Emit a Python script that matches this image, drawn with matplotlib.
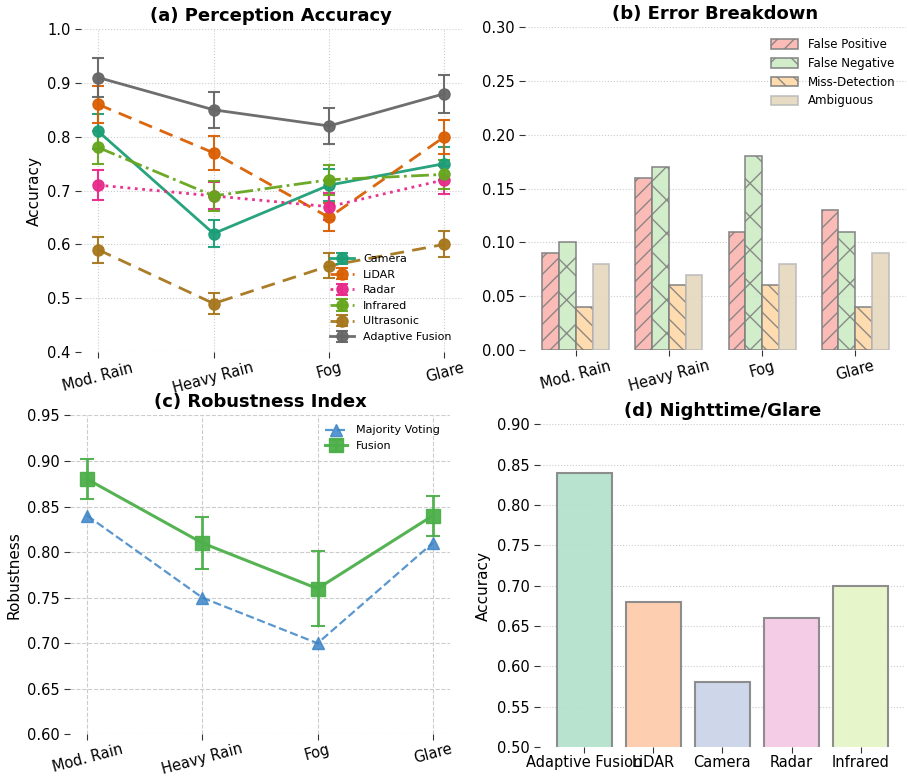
import matplotlib
matplotlib.use("Agg")
import matplotlib.pyplot as plt
import numpy as np

plt.rcParams['font.family'] = ['DejaVu Sans']

conditions = ["Mod. Rain", "Heavy Rain", "Fog", "Glare"]

# Panel (a)
sensors = ["Camera", "LiDAR", "Radar", "Infrared", "Ultrasonic", "Adaptive Fusion"]
acc_camera = [0.81, 0.62, 0.71, 0.75]
acc_lidar = [0.86, 0.77, 0.65, 0.80]
acc_radar = [0.71, 0.69, 0.67, 0.72]
acc_infrared = [0.78, 0.69, 0.72, 0.73]
acc_ultrasonic = [0.59, 0.49, 0.56, 0.60]
acc_fusion = [0.91, 0.85, 0.82, 0.88]
err_camera = [0.032, 0.025, 0.03, 0.03]
err_lidar = [0.035, 0.031, 0.026, 0.032]
err_radar = [0.028, 0.025, 0.025, 0.026]
err_infrared = [0.031, 0.028, 0.028, 0.027]
err_ultrasonic = [0.024, 0.02, 0.023, 0.024]
err_fusion = [0.036, 0.034, 0.033, 0.035]

# Panel (b)
error_types = ["False Positive", "False Negative", "Miss-Detection", "Ambiguous"]
fp = [0.09, 0.16, 0.11, 0.13]
fn = [0.10, 0.17, 0.18, 0.11]
md = [0.04, 0.06, 0.06, 0.04]
amb = [0.08, 0.07, 0.08, 0.09]

# Panel (c)
rob_majority = [0.84, 0.75, 0.70, 0.81]
rob_fusion = [0.88, 0.81, 0.76, 0.84]
rob_fusion_err = [0.022, 0.029, 0.041, 0.022]

# Panel (d)
night_methods = ["Adaptive Fusion", "LiDAR", "Camera", "Radar", "Infrared"]
night_acc = [0.84, 0.68, 0.58, 0.66, 0.70]

plt.rcParams['hatch.color'] = '#808080'
fig = plt.figure(figsize=(9.09, 7.78), dpi=100)

def style(ax, grid_axis='both', ls=':'):
    for s in ax.spines.values():
        s.set_visible(False)
    ax.tick_params(axis='both', length=4, color='#333333', labelsize=10.5)
    ax.tick_params(axis='x', pad=2)
    ax.grid(True, axis=grid_axis, linestyle=ls, color='#cccccc', linewidth=0.8)
    ax.set_axisbelow(True)

# (a)
axa = fig.add_axes([0.089, 0.5476, 0.419, 0.415])
x = np.arange(len(conditions))
a_data = [acc_camera, acc_lidar, acc_radar, acc_infrared, acc_ultrasonic, acc_fusion]
a_err = [err_camera, err_lidar, err_radar, err_infrared, err_ultrasonic, err_fusion]
a_colors = ['#1b9e77', '#d95f02', '#e7298a', '#66a61e', '#a6761d', '#666666']
a_ls = ['-', (0, (5, 3)), ':', '-.', (0, (5, 3)), '-']
for name, d, e, c, ls in zip(sensors, a_data, a_err, a_colors, a_ls):
    axa.errorbar(x, d, yerr=e, color=c, linestyle=ls, linewidth=2, marker='o',
                 markersize=8, capsize=4, elinewidth=1.5, capthick=1.5, label=name, alpha=0.95)
axa.set_xticks(x)
axa.set_xticklabels(conditions, rotation=15)
axa.set_ylim(0.4, 1.0)
axa.set_ylabel("Accuracy", fontsize=11)
axa.set_title("(a) Perception Accuracy", fontsize=13, fontweight='bold')
style(axa)
axa.legend(loc='lower right', fontsize=8, frameon=False, handlelength=2.2, labelspacing=0.5)

# (b)
axb = fig.add_axes([0.5776, 0.5501, 0.419, 0.415])
b_data = [fp, fn, md, amb]
b_colors = ['#fbb4ae', '#ccebc5', '#fed9a6', '#e5d8bd']
b_hatch = ['//', 'x', '\\\\', '']
w = 0.18
for i, (name, d, c, h) in enumerate(zip(error_types, b_data, b_colors, b_hatch)):
    ec = '#808080' if h else '#bbbbbb'
    axb.bar(x + (i - 1.5) * w, d, width=w, color=c, hatch=h, edgecolor=ec,
            linewidth=1.2, label=name, alpha=0.9)
axb.set_xticks(x)
axb.set_xticklabels(conditions, rotation=15)
axb.set_ylim(0, 0.30)
axb.set_yticks([0, 0.05, 0.10, 0.15, 0.20, 0.25, 0.30])
axb.set_yticklabels(["0.00", "0.05", "0.10", "0.15", "0.20", "0.25", "0.30"])
axb.set_title("(b) Error Breakdown", fontsize=13, fontweight='bold')
style(axb, grid_axis='y')
axb.legend(loc='upper right', fontsize=8.5, frameon=False, handlelength=2.3, handleheight=0.9)

# (c)
axc = fig.add_axes([0.077, 0.056, 0.418, 0.41])
axc.plot(x, rob_majority, color='#3d85c6', linestyle='--', marker='^', markersize=8,
         linewidth=1.6, label='Majority Voting', alpha=0.85)
axc.errorbar(x, rob_fusion, yerr=rob_fusion_err, color='#4daf4a', linestyle='-', marker='s',
             markersize=10, linewidth=2.2, capsize=5, elinewidth=2, capthick=1.5,
             label='Fusion', alpha=0.95)
axc.set_xticks(x)
axc.set_xticklabels(conditions, rotation=15)
axc.set_ylim(0.6, 0.95)
axc.set_yticks([0.60, 0.65, 0.70, 0.75, 0.80, 0.85, 0.90, 0.95])
axc.set_yticklabels(["0.60", "0.65", "0.70", "0.75", "0.80", "0.85", "0.90", "0.95"])
axc.set_ylabel("Robustness", fontsize=11)
axc.set_title("(c) Robustness Index", fontsize=13, fontweight='bold')
style(axc, ls='--')
axc.tick_params(axis='x', pad=1)
axc.legend(loc='upper right', fontsize=8, frameon=False)

# (d)
axd = fig.add_axes([0.594, 0.0398, 0.4015, 0.415])
d_colors = ['#b3e2cd', '#fdcdac', '#cbd5e8', '#f4cae4', '#e6f5c9']
xd = np.arange(len(night_methods))
axd.bar(xd, night_acc, width=0.8, color=d_colors, edgecolor='#888888', linewidth=1.5, alpha=0.95)
axd.set_xticks(xd)
axd.set_xticklabels(night_methods)
axd.set_ylim(0.5, 0.9)
axd.set_yticks([0.50, 0.55, 0.60, 0.65, 0.70, 0.75, 0.80, 0.85, 0.90])
axd.set_yticklabels(["0.50", "0.55", "0.60", "0.65", "0.70", "0.75", "0.80", "0.85", "0.90"])
axd.set_ylabel("Accuracy", fontsize=11)
axd.set_title("(d) Nighttime/Glare", fontsize=13, fontweight='bold')
style(axd, grid_axis='y')

fig.savefig("out.png", dpi=100)
